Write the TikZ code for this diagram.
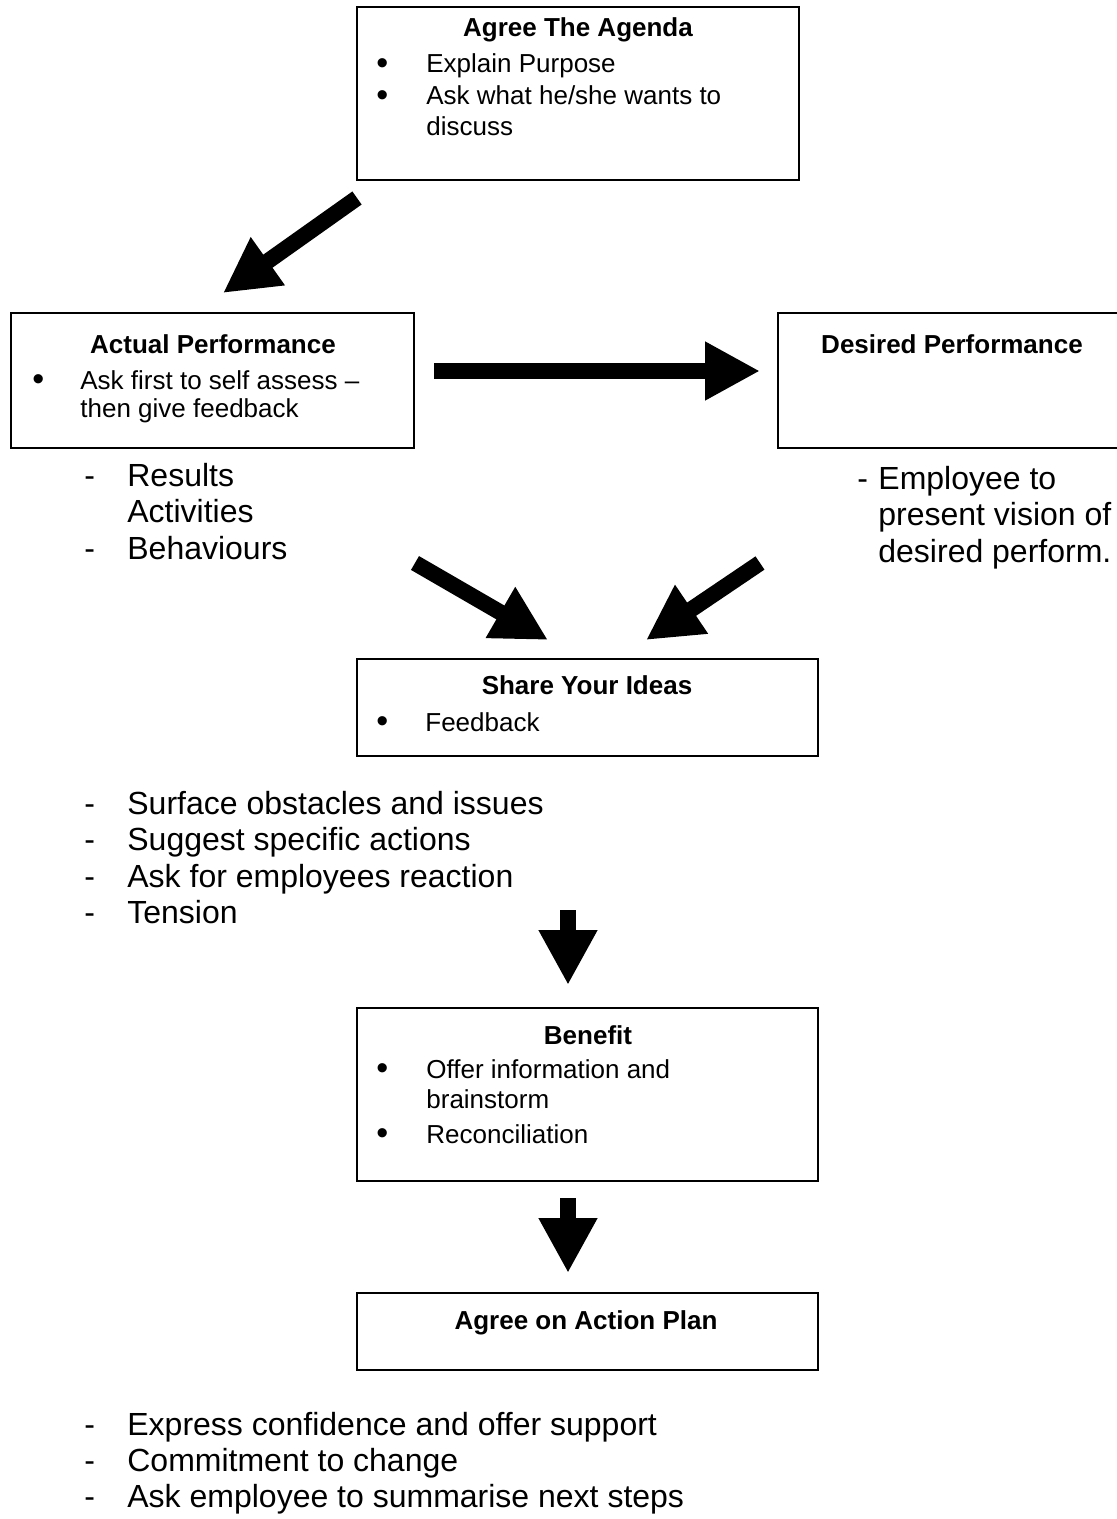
\documentclass[tikz,border=0pt]{standalone}
\usepackage{fontspec}
\setmainfont{Liberation Sans}
\usetikzlibrary{arrows.meta}
\newcommand{\boxfont}{\fontsize{13}{15}\selectfont}
\newcommand{\listfont}{\fontsize{16}{18.3}\selectfont}
\newcommand{\dotmark}{\raisebox{-0.9pt}{\fontsize{17}{15}\selectfont\textbullet}}

\begin{document}
\begin{tikzpicture}[x=0.5pt, y=-0.5pt,
    stage/.style={draw, line width=1pt, inner sep=0pt},
    boxtitle/.style={anchor=base, inner sep=0pt, font=\boxfont\bfseries},
    items/.style={anchor=base west, inner sep=0pt, font=\boxfont},
    notes/.style={anchor=base west, inner sep=0pt, font=\listfont},
    fat/.style={line width=8pt, -{Triangle[length=27.5pt, width=27.5pt]}}]
    \useasboundingbox (0,0) rectangle (1117,1519);
    \clip (0,0) rectangle (1117,1519);

    \node [stage, minimum width=221pt, minimum height=86.5pt] (agenda) at (578,93.5) {};
    \node [boxtitle] (agendat) at (578,37) {Agree The Agenda};
    \node [items, font=\fontsize{13}{15.75}\selectfont] (agendal) at (376,73) {\begin{tabular}[t]{@{}p{25pt}@{}l@{}}
        \dotmark & Explain Purpose\\
        \dotmark & Ask what he/she wants to\\
        & discuss
    \end{tabular}};

    \node [stage, minimum width=201.5pt, minimum height=67.5pt] (actual) at (212.5,380.5) {};
    \node [boxtitle] (actualt) at (213,354) {Actual Performance};
    \node [items, font=\fontsize{13}{14}\selectfont] (actuall) at (32,389) {\begin{tabular}[t]{@{}p{24pt}@{}l@{}}
        \dotmark & Ask first to self assess –\\
        & then give feedback
    \end{tabular}};

    \node [stage, minimum width=174pt, minimum height=67.5pt] (desired) at (952,380.5) {};
    \node [boxtitle] (desiredt) at (952,354) {Desired Performance};

    \node [notes] (actualn) at (84,486) {\begin{tabular}[t]{@{}p{21.5pt}@{}l@{}}
        - & Results\\
        & Activities\\
        - & Behaviours
    \end{tabular}};
    \node [notes] (desiredn) at (857,489) {\begin{tabular}[t]{@{}p{10.5pt}@{}l@{}}
        - & Employee to\\
        & present vision of\\
        & desired perform.
    \end{tabular}};

    \node [stage, minimum width=230.5pt, minimum height=48.5pt] (share) at (587.5,707.5) {};
    \node [boxtitle] (sharet) at (587,694) {Share Your Ideas};
    \node [items] (sharel) at (376,731) {\begin{tabular}[t]{@{}p{24.5pt}@{}l@{}}
        \dotmark & Feedback
    \end{tabular}};

    \node [notes] (sharen) at (84,814) {\begin{tabular}[t]{@{}p{21.5pt}@{}l@{}}
        - & Surface obstacles and issues\\
        - & Suggest specific actions\\
        - & Ask for employees reaction\\
        - & Tension
    \end{tabular}};

    \node [stage, minimum width=230.5pt, minimum height=86.5pt] (benefit) at (587.5,1094.5) {};
    \node [boxtitle] (benefitt) at (588,1044) {Benefit};
    \node [items] (benefitl) at (376,1078) {\begin{tabular}[t]{@{}p{25pt}@{}l@{}}
        \dotmark & Offer information and\\
        & brainstorm\\[2.5pt]
        \dotmark & Reconciliation
    \end{tabular}};

    \node [stage, minimum width=230.5pt, minimum height=38.5pt] (action) at (587.5,1331.5) {};
    \node [boxtitle] (actiont) at (586,1329) {Agree on Action Plan};

    \node [notes, font=\fontsize{16}{18}\selectfont] (actionn) at (84,1435) {\begin{tabular}[t]{@{}p{21.5pt}@{}l@{}}
        - & Express confidence and offer support\\
        - & Commitment to change\\
        - & Ask employee to summarise next steps
    \end{tabular}};

    \coordinate (a1s) at (357,198);
    \coordinate (a1e) at (223,293);
    \coordinate (a2s) at (434,371);
    \coordinate (a2e) at (760,371);
    \coordinate (a3s) at (415,563);
    \coordinate (a3e) at (548,640);
    \coordinate (a4s) at (760,563);
    \coordinate (a4e) at (646,640);
    \coordinate (a5s) at (568,910);
    \coordinate (a5e) at (568,985);
    \coordinate (a6s) at (568,1198);
    \coordinate (a6e) at (568,1273);
    \path (a1s) edge [fat] (a1e);
    \path (a2s) edge [fat] (a2e);
    \path (a3s) edge [fat] (a3e);
    \path (a4s) edge [fat] (a4e);
    \path (a5s) edge [fat] (a5e);
    \path (a6s) edge [fat] (a6e);
\end{tikzpicture}
\end{document}
